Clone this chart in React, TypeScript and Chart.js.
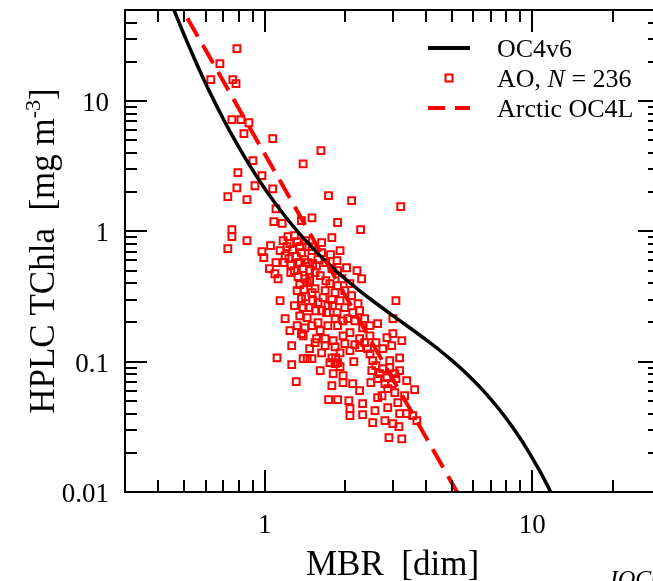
import { useEffect, useRef } from "react";
import { Chart, registerables } from "chart.js";

Chart.register(...registerables);

// ---- Data ----
const aoMBR = [
  0.786, 0.679, 0.628, 0.759, 0.78, 0.753, 0.814, 0.872, 0.835, 1.07,
  1.62, 0.902, 1.39, 0.793, 0.975, 0.918, 0.786, 1.07, 0.727, 0.857,
  1.73, 2.11, 3.22, 1.1, 1.5, 1.08, 1.16, 1.37, 1.87, 2.28,
  0.753, 0.753, 0.857, 0.727, 1.05, 0.975, 1.21, 1.29, 1.78, 1.63,
  1.19, 0.991, 1.24, 1.32, 1.27, 1.35, 1.23, 1.31, 1.37, 1.25,
  1.34, 1.41, 1.29, 1.39, 1.33, 1.41, 1.35, 1.32, 1.4, 1.25,
  1.09, 1.12, 1.51, 1.47, 1.37, 1.39, 1.46, 1.42, 1.18, 1.14,
  3.09, 3.01, 2.64, 2.3, 2.21, 2.02, 1.86, 1.78, 1.56, 1.54,
  1.42, 1.87, 2.11, 1.99, 2.13, 1.79, 1.7, 1.44, 1.58, 1.72,
  1.87, 2.08, 2.32, 2.47, 2.86, 3.01, 3.25, 1.56, 1.68, 1.8,
  1.96, 2.26, 1.61, 1.65, 1.78, 1.86, 1.58, 1.41, 1.96, 2.17,
  1.39, 1.44, 1.68, 1.75, 1.83, 1.91, 1.72, 1.63, 1.83, 1.99,
  1.5, 1.55, 1.47, 1.69, 1.94, 2.08, 1.58, 1.69, 1.5, 1.63,
  1.76, 1.91, 1.54, 1.87, 1.44, 1.5, 1.63, 1.61, 1.78, 1.83,
  1.87, 1.8, 1.96, 2.15, 2.08, 2.26, 1.78, 1.96, 2.13, 2.49,
  1.73, 1.87, 2.06, 2.32, 2.08, 2.08, 2.32, 2.53, 2.64, 2.88,
  2.88, 3.14, 3.39, 3.63, 3.19, 2.93, 2.53, 2.47, 2.69, 2.86,
  3.06, 3.19, 2.98, 3.19, 3.39, 3.57, 3.7, 3.01, 3.17, 2.91,
  3.25, 1.26, 1.11, 1.26, 1.39, 1.31, 1.24, 1.37, 1.84, 1.91,
  1.75, 2.6, 2.76, 2.93, 3.09, 2.81, 2.64, 2.51, 3.06, 3.33,
  2.74, 1.54, 1.68, 1.83, 1.99, 2.17, 2.36, 1.47, 1.91, 2.6,
  2.76, 2.98, 2.42, 1.17, 1.22, 1.1, 1.04, 1.35, 1.45, 1.51,
  1.46, 1.35, 1.5, 1.61, 1.32, 1.19, 1.14, 1.29, 2.26, 2.36,
  2.23, 2.04, 2.47, 2.58, 2.81, 2.26,
];
const aoChl = [
  25.3, 19.4, 14.6, 14.6, 13.6, 7.2, 7.2, 6.82, 5.63, 5.15,
  4.16, 3.49, 3.3, 2.82, 2.68, 2.24, 2.16, 2.12, 1.85, 1.75,
  1.88, 1.72, 1.55, 1.49, 1.27, 1.19, 1.15, 1.21, 1.17, 1.03,
  1.03, 0.911, 0.848, 0.737, 0.777, 0.699, 0.763, 0.927, 0.895, 0.819,
  0.651, 0.628, 0.805, 0.833, 0.724, 0.763, 0.617, 0.64, 0.686, 0.555,
  0.575, 0.607, 0.499, 0.517, 0.449, 0.433, 0.39, 0.351, 0.357, 0.482,
  0.473, 0.433, 0.565, 0.499, 0.305, 0.26, 0.763, 0.848, 0.575, 0.711,
  0.294, 0.214, 0.196, 0.433, 0.499, 0.526, 0.596, 0.517, 0.545, 0.364,
  0.315, 0.383, 0.321, 0.26, 0.238, 0.269, 0.238, 0.218, 0.199, 0.189,
  0.189, 0.167, 0.182, 0.158, 0.153, 0.164, 0.145, 0.15, 0.15, 0.145,
  0.158, 0.15, 0.457, 0.31, 0.299, 0.238, 0.284, 0.182, 0.206, 0.206,
  0.158, 0.404, 0.351, 0.397, 0.339, 0.294, 0.269, 0.246, 0.214, 0.351,
  0.339, 0.246, 0.418, 0.418, 0.433, 0.397, 0.607, 0.575, 0.711, 0.686,
  0.663, 0.711, 0.482, 0.499, 0.1055, 0.1055, 0.117, 0.0853, 0.107, 0.0966,
  0.0983, 0.0809, 0.0781, 0.1, 0.1215, 0.128, 0.0654, 0.069, 0.0678, 0.069,
  0.0511, 0.0511, 0.0502, 0.0477, 0.0436, 0.0385, 0.0392, 0.0341, 0.0529, 0.0444,
  0.0621, 0.0485, 0.0715, 0.061, 0.107, 0.102, 0.102, 0.115, 0.0809, 0.0754,
  0.0809, 0.0853, 0.0678, 0.0399, 0.0399, 0.0385, 0.0353, 0.0335, 0.0317, 0.0261,
  0.0256, 0.133, 0.107, 0.0949, 0.1055, 0.0703, 0.173, 0.164, 0.107, 0.0916,
  0.0983, 0.0932, 0.0884, 0.09, 0.0741, 0.0678, 0.0741, 0.0853, 0.0578, 0.0548,
  0.0548, 0.14, 0.133, 0.13, 0.1375, 0.135, 0.14, 0.126, 0.117, 0.14,
  0.126, 0.133, 0.126, 0.848, 0.911, 0.575, 0.517, 0.575, 0.575, 0.294,
  0.26, 0.225, 0.189, 0.173, 0.189, 0.214, 0.294, 0.269, 0.246, 0.214,
  0.279, 0.214, 0.189, 0.0421, 0.0353, 0.0599,
];

const oc4v6MBR = [
  0.45, 0.46, 0.5, 0.55, 0.6, 0.65, 0.7, 0.75, 0.8, 0.9, 1, 1.1, 1.2, 1.3, 1.5,
  1.75, 2, 2.25, 2.5, 3, 3.5, 4, 4.5, 5, 5.5, 6, 6.5, 7, 7.5, 8, 8.5, 9, 9.5,
  10, 10.5, 11, 11.4, 11.8,
];
const oc4v6Chl = [
  54.4, 48.5, 31.9, 20.3, 13.7, 9.77, 7.25, 5.57, 4.41, 2.95, 2.12, 1.614, 1.278,
  1.046, 0.754, 0.5504, 0.431, 0.3533, 0.2987, 0.2268, 0.1806, 0.1475, 0.1224,
  0.1023, 0.086, 0.0724, 0.061, 0.0514, 0.04333, 0.0365, 0.03072, 0.02584,
  0.02172, 0.01823, 0.01529, 0.01283, 0.01114, 0.00967,
];

const arcticMBR = [0.45, 1, 2, 3, 4, 5.5];
const arcticChl = [69.7, 3.91, 0.321, 0.0743, 0.02633, 0.00834];

const xMajorTicks = [1, 10];
const xMinorTicks = [0.4, 0.5, 0.6, 0.7, 0.8, 0.9, 2, 3, 4, 5, 6, 7, 8, 9, 20];
const xTickLabels = ["1", "10"];
const yMajorTicks = [0.01, 0.1, 1, 10];
const yMinorTicks = [
  0.02, 0.03, 0.04, 0.05, 0.06, 0.07, 0.08, 0.09,
  0.2, 0.3, 0.4, 0.5, 0.6, 0.7, 0.8, 0.9,
  2, 3, 4, 5, 6, 7, 8, 9, 20, 30, 40,
];
const yTickLabels = ["0.01", "0.1", "1", "10"];

const legendLabels = ["OC4v6", "AO, ", "N", " = 236", "Arctic OC4L"];
const xTitle = "MBR  [dim]";
const yTitleMain = "HPLC TChla  [mg m";
const yTitleSup = "-3";
const yTitleEnd = "]";
const footerText = "IOCCG";

const SERIF = '"Liberation Serif", "Times New Roman", serif';
const RED = "#ff0000";

const decorPlugin = {
  id: "decor",
  afterDraw(chart: any) {
    const { ctx, chartArea: a } = chart;
    const xs = chart.scales.x;
    const ys = chart.scales.y;
    ctx.save();
    ctx.strokeStyle = "#000";
    ctx.lineWidth = 2;
    ctx.lineCap = "butt";
    ctx.strokeRect(Math.round(a.left), Math.round(a.top), Math.round(a.right - a.left), Math.round(a.bottom - a.top));

    const tick = (vals: number[], len: number, horizontal: boolean) => {
      ctx.beginPath();
      for (const v of vals) {
        if (horizontal) {
          const px = Math.round(xs.getPixelForValue(v));
          ctx.moveTo(px, a.bottom);
          ctx.lineTo(px, a.bottom - len);
          ctx.moveTo(px, a.top);
          ctx.lineTo(px, a.top + len);
        } else {
          const py = Math.round(ys.getPixelForValue(v));
          ctx.moveTo(a.left, py);
          ctx.lineTo(a.left + len, py);
          ctx.moveTo(a.right, py);
          ctx.lineTo(a.right - len, py);
        }
      }
      ctx.stroke();
    };
    tick(xMajorTicks, 22, true);
    tick(xMinorTicks, 12, true);
    tick(yMajorTicks, 22, false);
    tick(yMinorTicks, 12, false);

    ctx.fillStyle = "#000";
    ctx.font = `27px ${SERIF}`;
    ctx.textAlign = "center";
    ctx.textBaseline = "alphabetic";
    xMajorTicks.forEach((v, i) => {
      ctx.fillText(xTickLabels[i], xs.getPixelForValue(v), a.bottom + 41);
    });
    ctx.textAlign = "right";
    yMajorTicks.forEach((v, i) => {
      ctx.fillText(yTickLabels[i], a.left - 16, ys.getPixelForValue(v) + 10);
    });

    // axis titles
    ctx.font = `35px ${SERIF}`;
    ctx.textAlign = "center";
    ctx.fillText(xTitle, (a.left + a.right) / 2, 575);

    ctx.save();
    const cy = (a.top + a.bottom) / 2;
    ctx.translate(54, cy);
    ctx.rotate(-Math.PI / 2);
    ctx.textAlign = "left";
    const fMain = `35px ${SERIF}`;
    const fSup = `22px ${SERIF}`;
    ctx.font = fMain;
    const w1 = ctx.measureText(yTitleMain).width;
    const w3 = ctx.measureText(yTitleEnd).width;
    ctx.font = fSup;
    const w2 = ctx.measureText(yTitleSup).width;
    const total = w1 + w2 + w3;
    let sx = -total / 2;
    ctx.font = fMain;
    ctx.fillText(yTitleMain, sx, 0);
    sx += w1;
    ctx.font = fSup;
    ctx.fillText(yTitleSup, sx, -14);
    sx += w2;
    ctx.font = fMain;
    ctx.fillText(yTitleEnd, sx, 0);
    ctx.restore();

    // legend
    const lx0 = 428;
    const lx1 = 470;
    const tx = 497;
    ctx.lineWidth = 4;
    ctx.strokeStyle = "#000";
    ctx.beginPath();
    ctx.moveTo(lx0, 48);
    ctx.lineTo(lx1, 48);
    ctx.stroke();
    ctx.strokeStyle = RED;
    ctx.lineWidth = 2;
    ctx.strokeRect(449 - 3.5, 78 - 3.5, 7, 7);
    ctx.lineWidth = 4;
    ctx.setLineDash([17, 10]);
    ctx.beginPath();
    ctx.moveTo(lx0, 108);
    ctx.lineTo(lx1, 108);
    ctx.stroke();
    ctx.setLineDash([]);

    ctx.fillStyle = "#000";
    ctx.textAlign = "left";
    ctx.font = `26px ${SERIF}`;
    ctx.fillText(legendLabels[0], tx, 57);
    let px = tx;
    ctx.fillText(legendLabels[1], px, 87);
    px += ctx.measureText(legendLabels[1]).width;
    ctx.font = `italic 26px ${SERIF}`;
    ctx.fillText(legendLabels[2], px, 87);
    px += ctx.measureText(legendLabels[2]).width;
    ctx.font = `26px ${SERIF}`;
    ctx.fillText(legendLabels[3], px, 87);
    ctx.fillText(legendLabels[4], tx, 117);

    ctx.font = `italic 24px ${SERIF}`;
    ctx.fillText(footerText, 610, 586);
    ctx.restore();
  },
};

export default function App() {
  const ref = useRef<HTMLCanvasElement | null>(null);
  useEffect(() => {
    if (!ref.current) return;
    const chart = new Chart(ref.current, {
      type: "scatter",
      data: {
        datasets: [
          {
            label: "Arctic OC4L",
            data: arcticMBR.map((x, i) => ({ x, y: arcticChl[i] })),
            showLine: true,
            borderColor: RED,
            borderWidth: 4,
            borderDash: [21, 10],
            pointRadius: 0,
            clip: 0,
            order: 1,
          } as any,
          {
            label: "OC4v6",
            data: oc4v6MBR.map((x, i) => ({ x, y: oc4v6Chl[i] })),
            showLine: true,
            borderColor: "#000",
            borderWidth: 3.5,
            pointRadius: 0,
            cubicInterpolationMode: "monotone",
            clip: 0,
            order: 2,
          } as any,
          {
            label: "AO, N = 236",
            data: aoMBR.map((x, i) => ({ x, y: aoChl[i] })),
            showLine: false,
            pointStyle: "rect",
            pointRadius: 4.8,
            pointBorderWidth: 2,
            pointBorderColor: RED,
            pointBackgroundColor: "rgba(0,0,0,0)",
            order: 3,
          } as any,
        ],
      },
      options: {
        responsive: false,
        animation: false,
        devicePixelRatio: 1,
        layout: { padding: { left: 125, top: 10, right: 10, bottom: 89 } },
        scales: {
          x: { type: "logarithmic", min: 0.3, max: 30, display: false },
          y: { type: "logarithmic", min: 0.01, max: 50, display: false },
        },
        plugins: {
          legend: { display: false },
          tooltip: { enabled: false },
        },
        events: [],
      },
      plugins: [decorPlugin],
    });
    return () => chart.destroy();
  }, []);
  return (
    <div
      style={{
        position: "fixed",
        left: 0,
        top: 0,
        width: 653,
        height: 581,
        overflow: "hidden",
        background: "#fff",
      }}
    >
      <canvas ref={ref} width={670} height={581} style={{ display: "block" }} />
    </div>
  );
}
